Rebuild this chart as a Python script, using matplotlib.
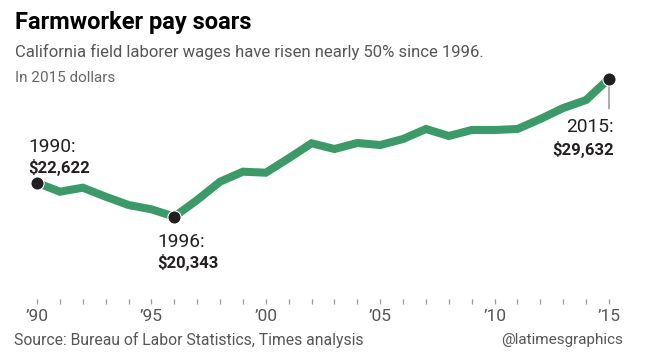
import matplotlib.pyplot as plt

plt.rcParams['font.family'] = ['Roboto', 'DejaVu Sans']

# California field laborer wages, 2015 dollars
years = list(range(1990, 2016))
wages = [22622, 22026, 22295, 21689, 21130, 20841, 20343, 21467, 22699, 23372,
         23304, 24273, 25283, 24899, 25303, 25168, 25572, 26245, 25774, 26178,
         26178, 26245, 26918, 27658, 28197, 29632]

tick_years = list(range(1990, 2016))
label_years = [1990, 1995, 2000, 2005, 2010, 2015]
callouts = [(1990, "1990:", "$22,622"), (1996, "1996:", "$20,343"), (2015, "2015:", "$29,632")]

W, H = 648, 358
fig = plt.figure(figsize=(W / 100, H / 100), dpi=100)
ax = fig.add_axes([37 / W, 1 - 299 / H, 572 / W, 239 / H])

green = '#3b9a68'
ink = '#231f20'
ax.plot(years, wages, color=green, lw=5.8, solid_joinstyle='miter', clip_on=False, zorder=2)

# highlighted points
for yr, lab, val in callouts:
    v = wages[years.index(yr)]
    ax.plot(yr, v, 'o', ms=9.5, color=ink, mec='white', mew=0.8, clip_on=False, zorder=3)

def label(yr, top, bottom, dx, dy1, dy2, ha):
    v = wages[years.index(yr)]
    ax.annotate(top, (yr, v), xytext=(dx, dy1), textcoords='offset pixels',
                ha=ha, va='baseline', fontsize=13.8, color=ink)
    ax.annotate(bottom, (yr, v), xytext=(dx, dy2), textcoords='offset pixels',
                ha=ha, va='baseline', fontsize=12, fontweight='bold', color=ink)

label(1990, "1990:", "$22,622", -9, 31, 10, 'left')
label(1996, "1996:", "$20,343", -17, -30, -51, 'left')
label(2015, "2015:", "$29,632", 5, -53, -76, 'right')
# leader line below the 2015 dot
ax.annotate('', (2015, wages[-1]), xytext=(0, -30), textcoords='offset pixels',
            arrowprops=dict(arrowstyle='-', color='#888888', lw=1, shrinkA=0, shrinkB=0), zorder=1)

ax.set_xlim(1990, 2015)
ax.set_ylim(14804, 30889)
ax.set_xticks(tick_years)
ax.set_xticklabels(["\u2019" + str(y)[2:] if y in label_years else "" for y in tick_years])
ax.tick_params(axis='x', length=3.6, width=0.9, color='#999999', pad=3.5,
               labelsize=12.5, labelcolor='#555555')
ax.set_yticks([])
for s in ax.spines.values():
    s.set_visible(False)

def ftext(x, y, s, **kw):
    fig.text(x / W, 1 - y / H, s, va='baseline', **kw)

ftext(15, 29, "Farmworker pay soars", fontsize=17, fontweight='bold', color='black')
ftext(15, 57, "California field laborer wages have risen nearly 50% since 1996.",
      fontsize=12, color='#555555')
ftext(15, 82, "In 2015 dollars", fontsize=11, color='#666666')
ftext(14, 345, "Source: Bureau of Labor Statistics, Times analysis", fontsize=11.3, color='#555555')
ftext(623, 344, "@latimesgraphics", fontsize=11, color='#555555', ha='right')

fig.savefig('out.png', dpi=100)
